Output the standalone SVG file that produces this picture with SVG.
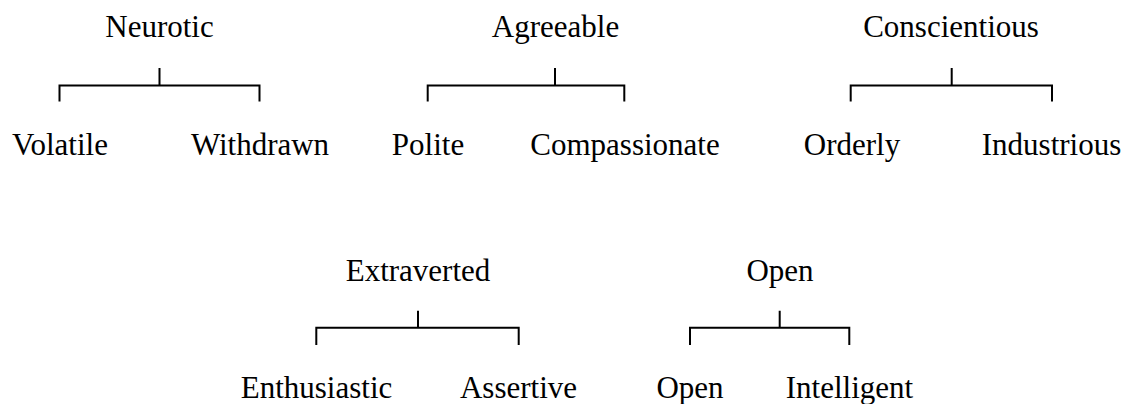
<svg xmlns="http://www.w3.org/2000/svg" width="1128" height="404" viewBox="0 0 1128 404">
<style>
text{font-family:"Liberation Serif","Times New Roman",serif;font-size:31px;fill:#000;text-anchor:middle}
.c{fill:none;stroke:#000;stroke-width:2}
</style>
<rect width="1128" height="404" fill="#fff"/>
<g id="neurotic"><text x="159.5" y="37">Neurotic</text></g>
<g id="volatile"><text x="60" y="155">Volatile</text></g>
<g id="withdrawn"><text x="260" y="155">Withdrawn</text></g>
<g id="agreeable"><text x="555.5" y="37">Agreeable</text></g>
<g id="polite"><text x="428" y="155">Polite</text></g>
<g id="compassionate"><text x="625" y="155">Compassionate</text></g>
<g id="conscientious"><text x="951" y="37">Conscientious</text></g>
<g id="orderly"><text x="852" y="155">Orderly</text></g>
<g id="industrious"><text x="1051.5" y="155">Industrious</text></g>
<g id="extraverted"><text x="418" y="281">Extraverted</text></g>
<g id="enthusiastic"><text x="316.5" y="398">Enthusiastic</text></g>
<g id="assertive"><text x="518.5" y="398">Assertive</text></g>
<g id="open"><text x="780" y="281">Open</text></g>
<g id="open2"><text x="690" y="398">Open</text></g>
<g id="intelligent"><text x="849.5" y="398">Intelligent</text></g>
<g id="connectors">
<path class="c" d="M159.5 68V85.5M59.5 101.5V85.5H259.5V101.5"/>
<path class="c" d="M555 68V85.5M427.7 101.5V85.5H624.3V101.5"/>
<path class="c" d="M951.7 68V85.5M850.7 101.5V85.5H1052V101.5"/>
<path class="c" d="M418 310.7V327.7M316.3 345V327.7H518.7V345"/>
<path class="c" d="M779.7 310.7V327.7M690 345V327.7H849.3V345"/>
</g>
</svg>
